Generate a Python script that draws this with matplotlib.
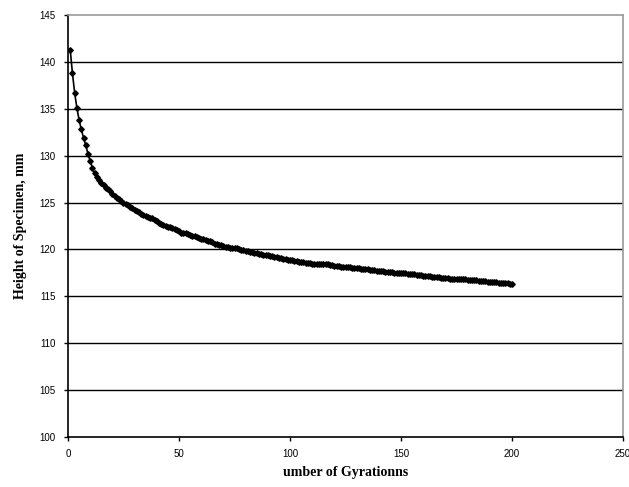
import matplotlib
matplotlib.use("Agg")
import matplotlib.pyplot as plt
import numpy as np

gyrations = np.arange(1, 201)
height = [
    141.3, 138.8, 136.7, 135.1, 133.8, 132.8, 131.9, 131.1, 130.2, 129.4,
    128.7, 128.1, 127.7, 127.4, 127.1, 126.9, 126.6, 126.4, 126.2, 125.9,
    125.7, 125.5, 125.4, 125.2, 125.0, 124.8, 124.7, 124.5, 124.4, 124.2,
    124.1, 124.0, 123.8, 123.7, 123.6, 123.5, 123.4, 123.3, 123.1, 123.0,
    122.8, 122.7, 122.6, 122.5, 122.4, 122.4, 122.3, 122.2, 122.1, 122.0,
    121.8, 121.7, 121.7, 121.6, 121.5, 121.4, 121.4, 121.3, 121.2, 121.1,
    121.1, 121.0, 120.9, 120.9, 120.8, 120.6, 120.6, 120.5, 120.5, 120.4,
    120.3, 120.3, 120.2, 120.2, 120.1, 120.1, 120.0, 119.9, 119.9, 119.8,
    119.8, 119.7, 119.7, 119.6, 119.6, 119.5, 119.5, 119.4, 119.4, 119.4,
    119.3, 119.3, 119.2, 119.2, 119.1, 119.1, 119.0, 119.0, 118.9, 118.9,
    118.9, 118.8, 118.8, 118.7, 118.7, 118.7, 118.6, 118.6, 118.6, 118.5,
    118.5, 118.5, 118.5, 118.4, 118.4, 118.4, 118.4, 118.3, 118.3, 118.2,
    118.2, 118.2, 118.1, 118.1, 118.1, 118.1, 118.1, 118.0, 118.0, 118.0,
    118.0, 117.9, 117.9, 117.9, 117.9, 117.8, 117.8, 117.8, 117.7, 117.7,
    117.7, 117.7, 117.6, 117.6, 117.6, 117.6, 117.5, 117.5, 117.5, 117.5,
    117.5, 117.5, 117.4, 117.4, 117.4, 117.4, 117.3, 117.3, 117.3, 117.2,
    117.2, 117.2, 117.2, 117.1, 117.1, 117.1, 117.1, 117.0, 117.0, 117.0,
    117.0, 116.9, 116.9, 116.9, 116.9, 116.8, 116.8, 116.8, 116.8, 116.7,
    116.7, 116.7, 116.7, 116.7, 116.6, 116.6, 116.6, 116.6, 116.5, 116.5,
    116.5, 116.5, 116.5, 116.4, 116.4, 116.4, 116.4, 116.4, 116.3, 116.3,
]

x_ticks = [0, 50, 100, 150, 200, 250]
y_ticks = [100, 105, 110, 115, 120, 125, 130, 135, 140, 145]

fig = plt.figure(figsize=(6.29, 4.87), dpi=100)
ax = fig.add_axes([0.1081, 0.1027, 0.8824, 0.8665])

# Horizontal gridlines (black, Excel style)
for y in y_ticks[1:-1]:
    ax.axhline(y, color="black", linewidth=1.0, zorder=1)

ax.plot(gyrations, height, color="black", linewidth=1.2,
        marker="D", markersize=2.8, zorder=3)

ax.set_xlim(0, 250)
ax.set_ylim(100, 145)
ax.set_xticks(x_ticks)
ax.set_yticks(y_ticks)
ax.tick_params(axis="both", direction="out", length=3, width=1,
               labelsize=7, pad=6)
for lbl in ax.get_xticklabels() + ax.get_yticklabels():
    lbl.set_family("Liberation Sans")

for side in ["left", "bottom"]:
    ax.spines[side].set_color("black")
    ax.spines[side].set_linewidth(1.2)
for side in ["top", "right"]:
    ax.spines[side].set_color("#9a9a9a")
    ax.spines[side].set_linewidth(1.2)

ax.set_xlabel("umber of Gyrationns", family="Liberation Serif",
              fontweight="bold", fontsize=10, labelpad=5)
ax.set_ylabel("Height of Specimen, mm", family="Liberation Serif",
              fontweight="bold", fontsize=10, labelpad=9)

fig.savefig("out.png", dpi=100)
